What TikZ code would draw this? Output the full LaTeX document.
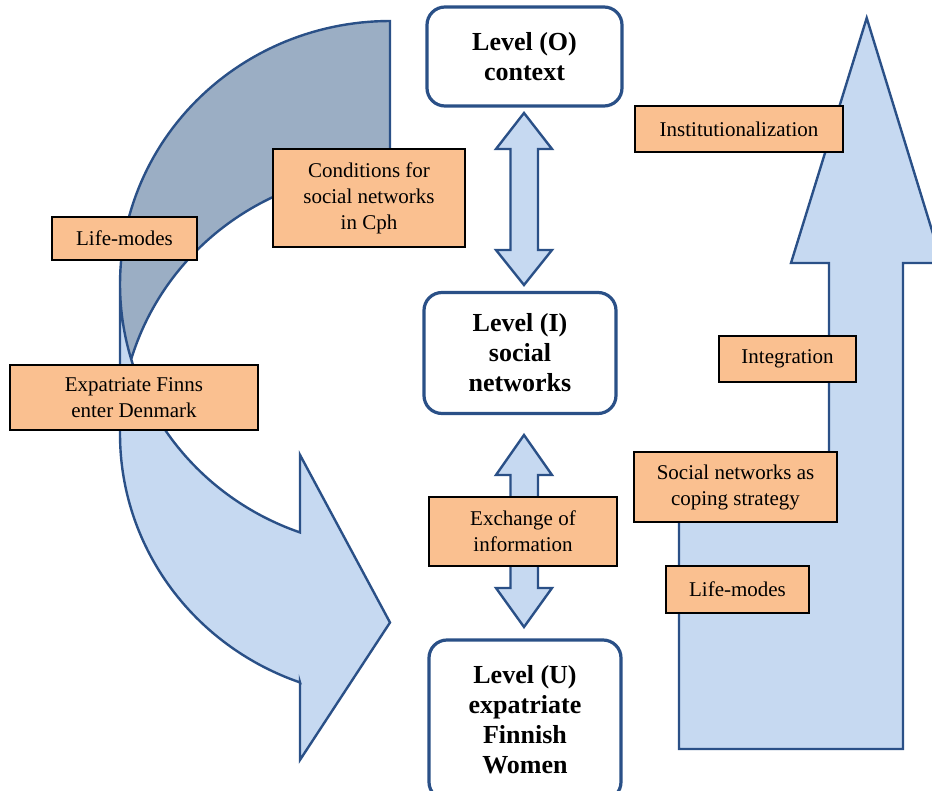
\documentclass[tikz,border=0pt]{standalone}
\usepackage{fontspec}
\setmainfont{Liberation Serif}
\definecolor{lightfill}{HTML}{C6D9F1}
\definecolor{darkfill}{HTML}{9BAEC4}
\definecolor{edgeblue}{HTML}{2A5087}
\definecolor{orangefill}{HTML}{FAC090}
\begin{document}
\begin{tikzpicture}[x=1pt,y=-1pt,
  lvl/.style={draw=edgeblue, line width=3.2pt, fill=white, rounded corners=18pt,
    align=center, inner sep=0pt, font=\fontsize{26}{30}\selectfont\bfseries},
  obox/.style={draw=black, line width=1.6pt, fill=orangefill, align=center,
    inner sep=0pt, font=\fontsize{21}{26}\selectfont},
  blockedge/.style={draw=edgeblue, line width=2.4pt},
]
\useasboundingbox (0,0) rectangle (932,791);
\clip (0,0) rectangle (932,791);

% ---- left curved arrow (light part) ----
\fill[lightfill]
  plot[domain=180:109.47, samples=60] ({390+270*cos(\x)},{284.25+263.25*sin(\x)})
  -- (300,454.9) -- (390,622.5) -- (300,759.9) -- (300,682.4)
  -- plot[domain=109.47:180, samples=60] ({390+270*cos(\x)},{434.25+263.25*sin(\x)})
  -- cycle;
% dark back part
\fill[darkfill]
  plot[domain=270:163.45, samples=80] ({390+270*cos(\x)},{284.25+263.25*sin(\x)})
  -- plot[domain=196.55:270, samples=80] ({390+270*cos(\x)},{434.25+263.25*sin(\x)})
  -- cycle;
% outline
\draw[blockedge]
  plot[domain=180:109.47, samples=60] ({390+270*cos(\x)},{284.25+263.25*sin(\x)})
  -- (300,454.9) -- (390,622.5) -- (300,759.9) -- (300,682.4)
  -- plot[domain=109.47:180, samples=60] ({390+270*cos(\x)},{434.25+263.25*sin(\x)})
  -- (120,284.25)
  -- plot[domain=180:270, samples=60] ({390+270*cos(\x)},{284.25+263.25*sin(\x)})
  -- (390,171)
  -- plot[domain=270:196.55, samples=80] ({390+270*cos(\x)},{434.25+263.25*sin(\x)});

% ---- right big up arrow ----
\draw[blockedge, fill=lightfill]
  (679,749) -- (679,487) -- (829,487) -- (829,263) -- (791,263) -- (866.7,18)
  -- (942,263) -- (903,263) -- (903,749) -- cycle;

% ---- level boxes ----
\node[lvl, minimum width=195pt, minimum height=99pt] (lo) at (524.5,56.5) {Level (O)\\context};
\node[lvl, minimum width=192pt, minimum height=121pt] (li) at (520,353) {Level (I)\\social\\networks};
\node[lvl, minimum width=192pt, minimum height=160pt] (lu) at (525,720) {Level (U)\\expatriate\\Finnish\\Women};

% ---- double arrows ----
\draw[blockedge, fill=lightfill]
  (524,113) -- (552,149) -- (538,149) -- (538,250) -- (552,250) -- (524,285)
  -- (496,250) -- (510.5,250) -- (510.5,149) -- (496,149) -- cycle;
\draw[blockedge, fill=lightfill]
  (524,435) -- (552,475) -- (538,475) -- (538,588) -- (552,588) -- (524,627)
  -- (496,588) -- (510.5,588) -- (510.5,475) -- (496,475) -- cycle;

% ---- orange labels ----
\node[obox, minimum width=208pt, minimum height=46pt] (inst) at (739,129) {Institutionalization};
\node[obox, minimum width=192pt, minimum height=98pt] (cond) at (369,198) {Conditions for\\social networks\\in Cph};
\node[obox, minimum width=145pt, minimum height=43pt] (lifea) at (124.5,238.5) {Life-modes};
\node[obox, minimum width=248pt, minimum height=65pt] (expat) at (134,397.5) {Expatriate Finns\\enter Denmark};
\node[obox, minimum width=137pt, minimum height=46pt] (integ) at (787.5,359) {Integration};
\node[obox, minimum width=203pt, minimum height=70pt] (social) at (735.5,487) {Social networks as\\coping strategy};
\node[obox, minimum width=188pt, minimum height=69pt] (exch) at (523,531.5) {Exchange of\\information};
\node[obox, minimum width=143pt, minimum height=47pt] (lifeb) at (737.5,589.5) {Life-modes};
\end{tikzpicture}
\end{document}
